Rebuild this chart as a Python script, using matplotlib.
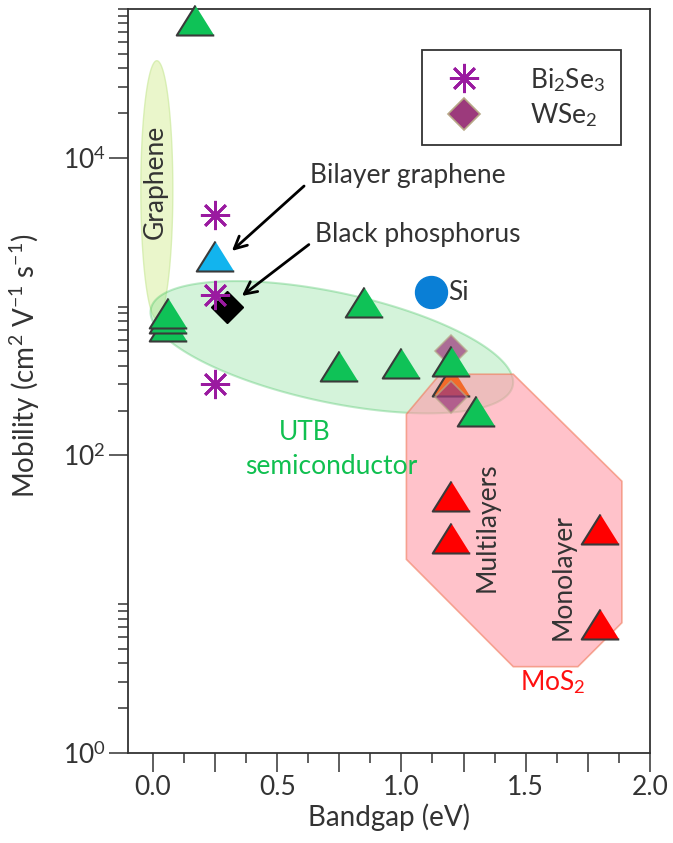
import numpy as np
import matplotlib.pyplot as plt
from matplotlib.patches import Polygon

plt.rcParams['font.family'] = ['Lato', 'DejaVu Sans']
plt.rcParams['mathtext.fontset'] = 'custom'
plt.rcParams['mathtext.rm'] = 'Lato'
plt.rcParams['mathtext.it'] = 'Lato:italic'
plt.rcParams['mathtext.bf'] = 'Lato:bold'

INK = '#333333'
FS = 19

# bandgap (eV) and mobility (cm2/Vs) for each group
utb_gap = [0.06, 0.06, 0.06, 0.17, 0.75, 0.85, 1.0, 1.2, 1.3]
utb_mob = [740, 840, 900, 84000, 400, 1070, 420, 430, 200]
mos2_gap = [1.2, 1.2, 1.8, 1.8]
mos2_mob = [53, 28, 32, 7.3]
orange_gap = [1.2]
orange_mob = [315]
bilayer_gap = [0.25]
bilayer_mob = [2170]
bp_gap = [0.3]
bp_mob = [1000]
si_gap = [1.12]
si_mob = [1260]
bi2se3_gap = [0.25, 0.25, 0.25]
bi2se3_mob = [4100, 1190, 300]
wse2_gap = [1.2, 1.2]
wse2_mob = [500, 246]

# MoS2 region outline
mos2_region = [(1.02, 189), (1.155, 351), (1.45, 351), (1.887, 67),
               (1.887, 7.5), (1.71, 3.8), (1.45, 3.8), (1.02, 20)]

xlim = (-0.1, 2.0)
ylim = (1, 1e5)
xticks = [0, 0.25, 0.5, 0.75, 1.0, 1.25, 1.5, 1.75, 2.0]
xticklabels = ['0.0', '', '0.5', '', '1.0', '', '1.5', '', '2.0']

fig = plt.figure(figsize=(6.73, 8.43), dpi=100)
ax = fig.add_axes([0.1902, 0.1068, 0.7756, 0.8826])
ax.set_xlim(*xlim)
ax.set_yscale('log')
ax.set_ylim(*ylim)

# pixel scale of the axes, used to draw the shaded blobs in screen proportions
PX_EV = 6.73 * 100 * 0.7756 / (xlim[1] - xlim[0])
PX_DEC = 8.43 * 100 * 0.8826 / np.log10(ylim[1] / ylim[0])


def blob(x0, y0, a_px, b_px, ang):
    t = np.linspace(0, 2 * np.pi, 200)
    th = np.deg2rad(ang)
    dx = a_px * np.cos(t) * np.cos(th) - b_px * np.sin(t) * np.sin(th)
    dy = a_px * np.cos(t) * np.sin(th) + b_px * np.sin(t) * np.cos(th)
    return np.column_stack([x0 + dx / PX_EV, y0 * 10 ** (dy / PX_DEC)])


ax.add_patch(Polygon(blob(0.016, 10 ** 3.785, 16, 129, 0), closed=True,
                     facecolor='#e2f3b5', edgecolor='#cdeaa0', alpha=0.7, lw=1, zorder=1))
ax.add_patch(Polygon(blob(0.72, 533, 185, 55, -12), closed=True,
                     facecolor='#7ddc8f', edgecolor='#3cc05a', alpha=0.33, lw=1.5, zorder=1))
ax.add_patch(Polygon(mos2_region, closed=True, facecolor='#ff9aa8',
                     edgecolor='#f07a5a', alpha=0.6, lw=1.2, zorder=1))

tri = [(0, 0.8), (-1, -0.8), (1, -0.8)]
edge = '#3a3a3a'
ax.plot(orange_gap, orange_mob, ls='none', marker=tri, ms=27, mfc='#f26a2a',
        mec=edge, mew=1.5, zorder=3)
wse2, = ax.plot(wse2_gap, wse2_mob, ls='none', marker='D', ms=16, mfc='#9c3a7c',
                mec='#b8a888', mew=1.2, alpha=0.72, zorder=4, label='WSe$_2$')
ax.plot(utb_gap, utb_mob, ls='none', marker=tri, ms=27, mfc='#0fc257',
        mec=edge, mew=1.5, zorder=5, clip_on=False)
ax.plot(mos2_gap, mos2_mob, ls='none', marker=tri, ms=27, mfc='#ff0000',
        mec=edge, mew=1.5, zorder=5)
ax.plot(bilayer_gap, bilayer_mob, ls='none', marker=tri, ms=27, mfc='#12b4ee',
        mec=edge, mew=1.5, zorder=5)
ax.plot(bp_gap, bp_mob, ls='none', marker='D', ms=16, mfc='black',
        mec='black', zorder=6)
ax.plot(si_gap, si_mob, ls='none', marker='o', ms=23, mfc='#0a7fd6',
        mec='#0a7fd6', zorder=5)
bise, = ax.plot(bi2se3_gap, bi2se3_mob, ls='none', marker=(8, 2, 0), ms=21,
                mec='#9a1aa0', mew=2, zorder=6, label='Bi$_2$Se$_3$')

leg = ax.legend(handles=[bise, wse2], loc='upper left', bbox_to_anchor=(0.563, 0.945),
                frameon=True, fancybox=False, edgecolor='black', fontsize=FS,
                handletextpad=1.5, borderpad=0.6, labelspacing=0.3,
                handlelength=2.0, borderaxespad=0)
leg.get_frame().set_linewidth(1.3)
leg.legend_handles[1].set_alpha(1)
for t in leg.get_texts():
    t.set_color(INK)

# region and point labels
ax.text(0.008, 10 ** 3.838, 'Graphene', rotation=90, ha='center', va='center',
        fontsize=FS, color=INK, zorder=7)
ax.text(0.612, 143, 'UTB', ha='center', va='center', fontsize=FS, color='#10c050')
ax.text(0.716, 84, 'semiconductor', ha='center', va='center', fontsize=FS,
        color='#10c050')
ax.text(1.344, 32.7, 'Multilayers', rotation=90, ha='center', va='center',
        fontsize=FS, color=INK)
ax.text(1.65, 15.1, 'Monolayer', rotation=90, ha='center', va='center',
        fontsize=FS, color=INK)
ax.text(1.61, 3.0, 'MoS$_2$', ha='center', va='center', fontsize=FS, color='#ff1010')
ax.text(1.19, 1252, 'Si', ha='left', va='center', fontsize=FS, color=INK)

arrow = dict(arrowstyle='->', color='black', lw=2, mutation_scale=22,
             shrinkA=3, shrinkB=0, relpos=(0, 0.3))
ax.annotate('Bilayer graphene', xy=(0.318, 2365), xytext=(0.632, 7570),
            ha='left', va='center', fontsize=FS, color=INK, arrowprops=arrow)
ax.annotate('Black phosphorus', xy=(0.358, 1178), xytext=(0.652, 3030),
            ha='left', va='center', fontsize=FS, color=INK, arrowprops=arrow)

# axes styling
ax.set_xticks(xticks)
ax.set_xticklabels(xticklabels)
ax.set_xticks([0.125 + 0.25 * i for i in range(8)], minor=True)
ax.set_yticks([1, 100, 1e4])
ax.set_yticklabels(['$10^0$', '$10^2$', '$10^4$'])
ax.set_yticks([k * 10 ** d for d in (0, 2, 4) for k in range(2, 11)], minor=True)
ax.yaxis.set_minor_formatter(plt.NullFormatter())
ax.tick_params(which='major', direction='out', length=14, width=1.1, color=INK,
               labelsize=19, labelcolor=INK, pad=2)
ax.tick_params(which='minor', direction='out', length=7, width=1.1, color=INK)
for s in ax.spines.values():
    s.set_linewidth(1.3)
    s.set_color(INK)

ax.set_xlabel('Bandgap (eV)', fontsize=20, color=INK, labelpad=2)
ax.set_ylabel('Mobility (cm$^2$ V$^{-1}$ s$^{-1}$)', fontsize=20, color=INK, labelpad=2)
ax.yaxis.set_label_coords(-0.165, 0.52)

fig.savefig('out.png', dpi=100)
